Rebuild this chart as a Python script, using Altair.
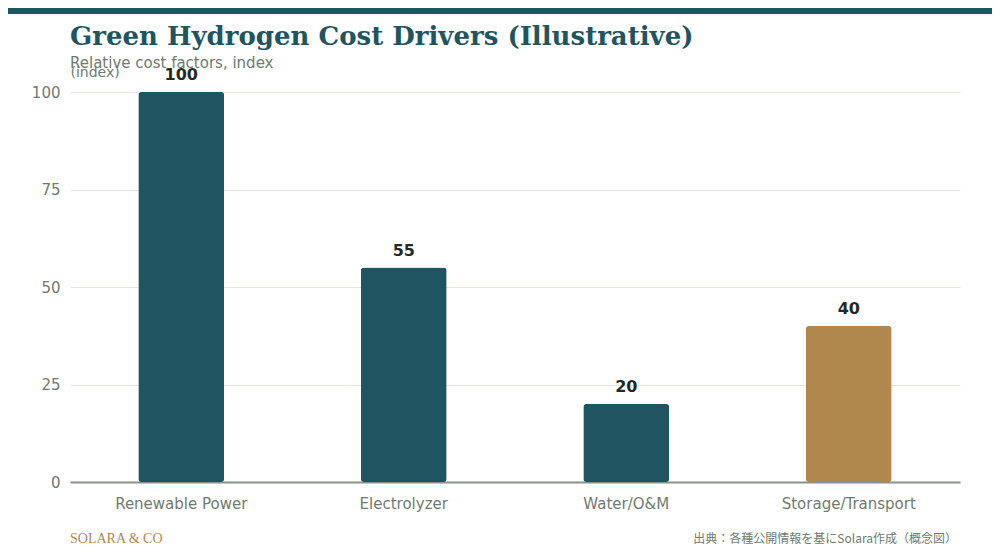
import altair as alt
import pandas as pd

categories = ["Renewable Power", "Electrolyzer", "Water/O&M", "Storage/Transport"]
values = [100, 55, 20, 40]
bar_colors = ["#1f5561", "#1f5561", "#1f5561", "#b0884d"]

title_text = "Green Hydrogen Cost Drivers (Illustrative)"
subtitle_text = "Relative cost factors, index"
footer_left = "SOLARA & CO"
footer_right = "出典：各種公開情報を基にSolara作成（概念図）"

df = pd.DataFrame({"category": categories, "value": values})

W, H = 890, 390

x_enc = alt.X("category:N", sort=categories,
              scale=alt.Scale(paddingInner=0.614, paddingOuter=0.307),
              axis=alt.Axis(title=None, labelAngle=0, labelFontSize=15, labelColor="#6f7a70",
                            labelPadding=14, ticks=False, domainColor="#8a9185",
                            domainWidth=2, grid=False, labelFont="DejaVu Sans"))
y_enc = alt.Y("value:Q", scale=alt.Scale(domain=[0, 100], nice=False),
              axis=alt.Axis(values=[0, 25, 50, 75, 100], title="(index)", titleAngle=0,
                            titleX=0, titleY=-16, titleAlign="left", titleBaseline="alphabetic",
                            titleFontSize=14, titleFontWeight="normal", titleColor="#6f7a70",
                            titleFont="DejaVu Sans",
                            labelFontSize=15, labelColor="#6f7a70", labelPadding=10,
                            labelFont="DejaVu Sans",
                            ticks=False, domain=False, gridColor="#ebe5d8", gridWidth=1))

bars = alt.Chart(df).mark_bar(cornerRadius=3).encode(
    x=x_enc,
    y=y_enc,
    color=alt.Color("category:N", scale=alt.Scale(domain=categories, range=bar_colors), legend=None),
)

labels = alt.Chart(df).mark_text(baseline="alphabetic", dy=-12, fontSize=16, fontWeight="bold",
                                 color="#1f2a26", font="DejaVu Sans").encode(
    x=alt.X("category:N", sort=categories),
    y="value:Q",
    text="value:Q",
)

def note(text, x, y, **kw):
    return alt.Chart(pd.DataFrame({"t": [text]})).mark_text(**kw).encode(
        x=alt.value(x), y=alt.value(y), text="t:N")

top_bar = alt.Chart(pd.DataFrame({"a": [0]})).mark_rect(color="#1f5561").encode(
    x=alt.value(-62), x2=alt.value(922), y=alt.value(-84), y2=alt.value(-78))

title = note(title_text, 0, -47, align="left", baseline="alphabetic", fontSize=26,
             fontWeight="bold", font="DejaVu Serif", color="#1f5561")
subtitle = note(subtitle_text, 0, -24, align="left", baseline="alphabetic", fontSize=15,
                font="DejaVu Sans", color="#6f7a70")
fl = note(footer_left, 0, 451, align="left", baseline="alphabetic", fontSize=14,
          font="Liberation Serif", color="#b0884d")
fr = note(footer_right, 887, 451, align="right", baseline="alphabetic", fontSize=12,
          font="Noto Sans CJK JP", color="#6f7a70")

chart = alt.layer(bars, labels, top_bar, title, subtitle, fl, fr).properties(
    width=W, height=H,
    autosize=alt.AutoSizeParams(type="none"),
    padding={"left": 70 - 8, "top": 92 - 8, "right": 984 - 62 - W, "bottom": 544 - 84 - H},
    background="#ffffff",
).configure_view(stroke=None)

chart.save("out.html", embed_options={"renderer": "svg", "actions": False})
